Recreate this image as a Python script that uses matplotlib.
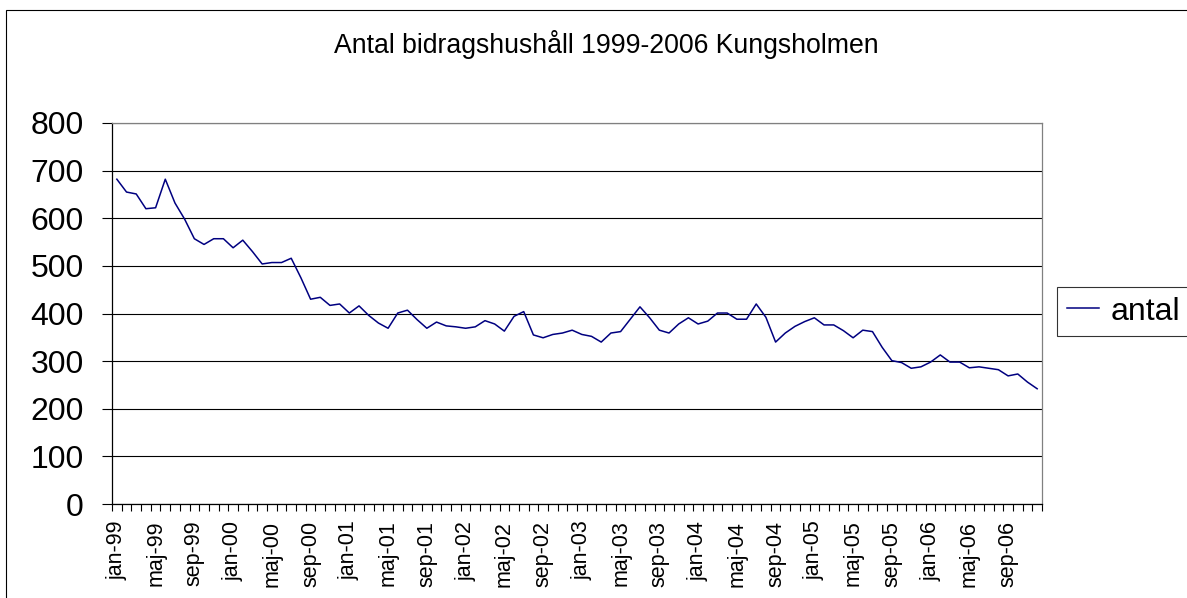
#!/usr/bin/env python

"""
Antal bidragshushåll per månad, Kungsholmen 1999-2006.
"""

import matplotlib
matplotlib.use("Agg")
import matplotlib.pyplot as plt
from matplotlib.patches import Rectangle

months = ['jan', 'feb', 'mar', 'apr', 'maj', 'jun',
          'jul', 'aug', 'sep', 'okt', 'nov', 'dec']
years = ['99', '00', '01', '02', '03', '04', '05', '06']
categories = ["%s-%s" % (m, y) for y in years for m in months]

antal = [682, 655, 651, 620, 622, 682, 632, 598, 557, 545, 557, 557,
         538, 554, 530, 504, 507, 507, 516, 475, 430, 434, 417, 420,
         401, 416, 396, 380, 369, 401, 407, 387, 369, 382, 374, 372,
         369, 372, 385, 378, 363, 394, 404, 355, 349, 356, 359, 365,
         356, 352, 340, 359, 362, 388, 414, 391, 365, 359, 378, 391,
         378, 384, 401, 401, 388, 388, 420, 392, 340, 359, 373, 383,
         391, 376, 376, 364, 349, 365, 362, 329, 301, 297, 285, 288,
         298, 313, 298, 298, 286, 288, 285, 282, 269, 273, 256, 242]

yticks = [0, 100, 200, 300, 400, 500, 600, 700, 800]
title = "Antal bidragshushåll 1999-2006 Kungsholmen"

W, H = 1187, 598
plt.rcParams['font.family'] = "sans-serif"
plt.rcParams['font.sans-serif'] = ["Liberation Sans", "DejaVu Sans"]

fig = plt.figure(figsize=(W / 100.0, H / 100.0), dpi=100)

# outer chart-area border (right/bottom fall outside the picture)
fig.patches.append(Rectangle((6.0 / W, -0.1), 1.2, 1.1 - 10.0 / H,
                             transform=fig.transFigure, fill=False,
                             edgecolor="black", linewidth=0.8))

fig.text(606.0 / W, 1 - 53.0 / H, title, ha="center", va="baseline",
         fontsize=19.2)

left, right, top, bottom = 112.0, 1042.0, 123.0, 504.0
ax = fig.add_axes([left / W, 1 - bottom / H, (right - left) / W,
                   (bottom - top) / H])

x = list(range(len(antal)))
ax.plot(x, antal, color="#000080", lw=1.1, label="antal")

ax.set_xlim(-0.5, len(antal) - 0.5)
ax.set_ylim(0, 800)
ax.set_yticks(yticks)
ax.yaxis.grid(True, color="black", lw=0.8)
ax.set_axisbelow(True)
ax.tick_params(axis="y", direction="out", length=7.2, width=0.8,
               labelsize=23, pad=13)

ax.set_xticks(x[::4])
ax.set_xticklabels(categories[::4], rotation=90, fontsize=15.5)
ax.set_xticks([i - 0.5 for i in range(len(antal) + 1)], minor=True)
ax.tick_params(axis="x", which="major", length=0, pad=12)
ax.tick_params(axis="x", which="minor", direction="out", length=5,
               width=0.8)

for s in ['left', 'bottom']:
    ax.spines[s].set_color("black")
    ax.spines[s].set_linewidth(0.9)
for s in ['right', 'top']:
    ax.spines[s].set_color("#808080")
    ax.spines[s].set_linewidth(0.9)

leg = fig.legend(loc="upper left", bbox_to_anchor=(1057.0 / W, 1 - 287.0 / H),
                 fontsize=23, frameon=True, fancybox=False, handlelength=1.03,
                 handletextpad=0.34, borderpad=0.3, borderaxespad=0.0)
leg.get_frame().set_edgecolor("black")
leg.get_frame().set_linewidth(0.8)

fig.savefig("out.png", dpi=100)
